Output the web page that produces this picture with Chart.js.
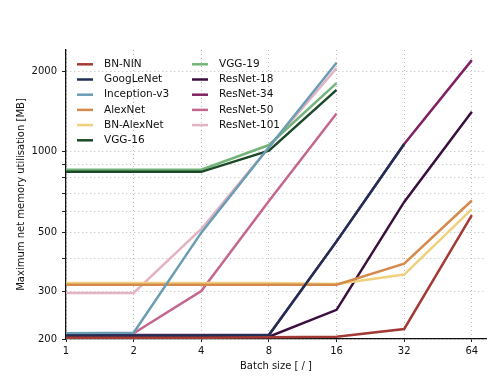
<!DOCTYPE html>
<html>
<head>
<meta charset="utf-8">
<script src="https://cdn.jsdelivr.net/npm/chart.js@4.4.0/dist/chart.umd.min.js"></script>
<style>
html, body { margin: 0; padding: 0; background: #fff; }
#wrap { width: 500px; height: 392px; }
</style>
</head>
<body>
<div id="wrap"><canvas id="memChart" width="500" height="392"></canvas></div>
<script>
var batchSizes = [1, 2, 4, 8, 16, 32, 64];
var yTicks = [200, 300, 400, 500, 600, 700, 800, 900, 1000, 2000];
var yLabelled = [200, 300, 500, 1000, 2000];

var names = ["BN-NIN", "GoogLeNet", "Inception-v3", "AlexNet", "BN-AlexNet", "VGG-16",
             "VGG-19", "ResNet-18", "ResNet-34", "ResNet-50", "ResNet-101"];

// memory in MB per batch size, null = not measured
var bnNin       = [202, 202, 202, 203, 204, 218, 580];
var googLeNet   = [206, 206, 206, 207, 463, 1070, null];
var inceptionV3 = [210, 211, 499, 1040, 2150, null, null];
var alexNet     = [319, 319, 319, 319, 319, 382, 658];
var bnAlexNet   = [324, 324, 324, 324, 321, 348, 611];
var vgg16       = [842, 842, 842, 1010, 1703, null, null];
var vgg19       = [857, 857, 857, 1060, 1804, null, null];
var resNet18    = [204, 204, 204, 204, 257, 650, 1410];
var resNet34    = [207, 207, 207, 207, 463, 1070, 2200];
var resNet50    = [210, 210, 302, 655, 1390, null, null];
var resNet101   = [297, 297, 515, 1040, 2053, null, null];

var series = [bnNin, googLeNet, inceptionV3, alexNet, bnAlexNet, vgg16,
              vgg19, resNet18, resNet34, resNet50, resNet101];

var colors = {
  "BN-NIN": "#a33a35",
  "GoogLeNet": "#1f2f55",
  "Inception-v3": "#6a9db3",
  "AlexNet": "#d58a4c",
  "BN-AlexNet": "#efd07c",
  "VGG-16": "#1c4a28",
  "VGG-19": "#74b47a",
  "ResNet-18": "#3a0f3e",
  "ResNet-34": "#7e2263",
  "ResNet-50": "#c4678f",
  "ResNet-101": "#e3b3c3"
};

var font = "'DejaVu Sans', sans-serif";

var datasets = [];
for (var i = 0; i < names.length; i++) {
  var pts = [];
  for (var j = 0; j < batchSizes.length; j++) {
    if (series[i][j] !== null) pts.push({x: batchSizes[j], y: series[i][j]});
  }
  datasets.push({
    label: names[i],
    data: pts,
    borderColor: colors[names[i]],
    backgroundColor: colors[names[i]],
    borderWidth: 2.5,
    pointRadius: 0,
    tension: 0,
    fill: false
  });
}

// two column legend inside the plot, like the original
var columnLegend = {
  id: "columnLegend",
  afterDraw: function(chart) {
    var ctx = chart.ctx;
    var area = chart.chartArea;
    ctx.save();
    ctx.font = "10.5px " + font;
    ctx.textBaseline = "middle";
    ctx.fillStyle = "#111";
    for (var i = 0; i < names.length; i++) {
      var col = i < 6 ? 0 : 1;
      var row = i < 6 ? i : i - 6;
      var x = area.left + 11 + col * 115;
      var y = area.top + 14.3 + row * 15.2;
      ctx.strokeStyle = colors[names[i]];
      ctx.lineWidth = 2.5;
      ctx.beginPath();
      ctx.moveTo(x, y);
      ctx.lineTo(x + 16, y);
      ctx.stroke();
      ctx.fillText(names[i], x + 27, y);
    }
    ctx.restore();
  }
};

new Chart("memChart", {
  type: "line",
  data: { datasets: datasets },
  options: {
    responsive: false,
    animation: false,
    layout: { padding: { top: 50, right: 14, left: 0, bottom: 0 } },
    plugins: {
      legend: { display: false },
      tooltip: { enabled: false }
    },
    scales: {
      x: {
        type: "logarithmic",
        min: 1,
        max: 74,
        afterBuildTicks: function(scale) {
          scale.ticks = batchSizes.map(function(v) { return {value: v}; });
        },
        afterFit: function(scale) { scale.height = 53; },
        ticks: {
          autoSkip: false,
          maxRotation: 0,
          padding: 3,
          color: "#111",
          font: { family: font, size: 10 },
          callback: function(v) { return String(v); }
        },
        grid: { color: "#b8b8b8", tickColor: "#222", tickLength: 3, lineWidth: 1 },
        border: { color: "#111", width: 1.3, dash: [1, 3] },
        title: {
          display: true,
          text: "Batch size [ / ]",
          color: "#111",
          font: { family: font, size: 10 },
          padding: { top: 0, bottom: 20 }
        }
      },
      y: {
        type: "logarithmic",
        min: 200,
        max: 2400,
        afterBuildTicks: function(scale) {
          scale.ticks = yTicks.map(function(v) { return {value: v}; });
        },
        afterFit: function(scale) { scale.width = 66; },
        ticks: {
          autoSkip: false,
          padding: 5,
          color: "#111",
          font: { family: font, size: 10 },
          callback: function(v) { return yLabelled.indexOf(v) >= 0 ? String(v) : ""; }
        },
        grid: { color: "#b8b8b8", tickColor: "#222", tickLength: 4, lineWidth: 1 },
        border: { color: "#111", width: 1.3, dash: [1, 3] },
        title: {
          display: true,
          text: "Maximum net memory utilisation [MB]",
          color: "#111",
          font: { family: font, size: 10 },
          padding: { top: 15, bottom: 0 }
        }
      }
    }
  },
  plugins: [columnLegend]
});
</script>
</body>
</html>
